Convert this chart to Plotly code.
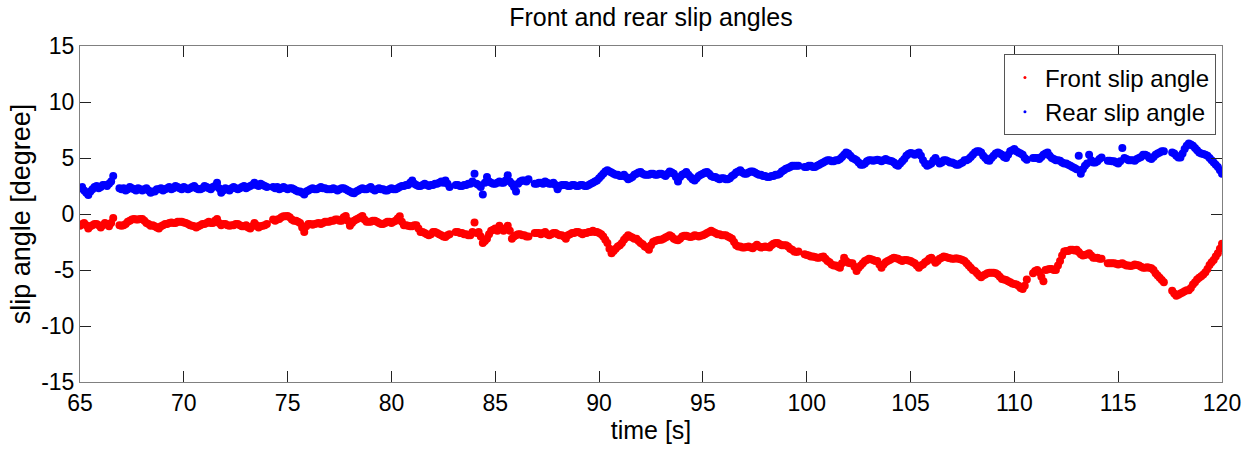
import numpy as np
import plotly.graph_objects as go

# Sample times: 0.1 s steps from 65 s to 120 s
t_start, t_step = 65.0, 0.1

# Rear slip angle [deg], one row per 2 s (None = dropped samples)
rear_slip = [
    2.3, 2.4, 2.1, 1.9, 1.7, 2.0, 2.2, 2.4, 2.5, 2.3, 2.4, 2.6, 2.6, 2.5, 2.7, 2.9, 3.4, None, None, 2.3,                  # 65
    2.2, 2.3, 2.1, 2.2, 2.4, 2.3, 2.2, 2.1, 2.3, 2.2, 2.1, 2.2, 2.3, 2.1, 1.9, 2.0, 2.0, 2.2, 2.2, 2.3,                    # 67
    2.1, 2.2, 2.3, 2.4, 2.2, 2.3, 2.5, 2.4, 2.3, 2.2, 2.4, 2.3, 2.2, 2.3, 2.4, 2.5, 2.3, 2.2, 2.2, 2.3,                    # 69
    2.5, 2.4, 2.3, 2.2, 2.4, 2.5, 2.8, 2.3, 1.9, 2.1, 2.3, 2.2, 2.1, 2.3, 2.4, 2.3, 2.2, 2.3, 2.4, 2.5,                    # 71
    2.3, 2.4, 2.5, 2.6, 2.8, 2.6, 2.5, 2.7, 2.6, 2.5, 2.4, None, None, 2.4, 2.3, 2.4, 2.2, 2.3, 2.4, 2.3,                  # 73
    2.2, 2.3, 2.3, 2.2, 2.1, 2.0, 2.0, 1.9, 1.75, 2.0, 2.1, 2.2, 2.3, 2.2, 2.2, 2.3, 2.4, 2.3, 2.3, 2.2,                   # 75
    2.2, 2.2, 2.3, 2.2, 2.1, 2.2, 2.3, 2.3, 2.2, 2.1, 2.0, 1.9, 1.85, 2.0, 2.1, 2.2, 2.3, 2.2, 2.2, 2.3,                   # 77
    2.4, 2.2, 2.1, 2.2, 2.3, 2.2, 2.2, 2.1, 2.1, 2.2, 2.3, 2.2, 2.2, 2.3, 2.4, 2.5, 2.5, 2.6, 2.6, 2.8,                    # 79
    3.0, 2.7, 2.6, 2.5, 2.5, 2.6, 2.7, 2.6, 2.5, 2.6, 2.6, 2.7, 2.7, 2.8, 2.9, 2.8, 3.0, 2.7, 2.4, None,                   # 81
    None, 2.6, 2.6, 2.5, 2.5, 2.6, 2.6, 2.7, 2.7, 2.9, 3.6, 2.7, 2.6, 2.4, 1.75, 2.8, 3.3, 2.9, 2.8, 2.7,                  # 83
    2.7, 2.8, 2.9, 2.8, 2.8, 3.0, 3.45, 2.9, 2.7, 2.4, 2.0, 2.7, 2.9, 3.0, 3.0, 2.9, 3.1, None, None, 2.7,                 # 85
    2.7, 2.8, 2.8, 2.7, 2.9, 2.8, 2.7, 2.7, 2.8, 2.6, 2.2, 2.5, 2.6, 2.6, 2.6, 2.5, 2.5, 2.6, 2.6, 2.5,                    # 87
    2.5, 2.6, 2.6, 2.5, 2.5, 2.6, 2.7, 2.8, 2.9, 3.0, 3.2, 3.4, 3.6, 3.8, 3.9, 3.8, 3.7, 3.6, 3.5, 3.5,                    # 89
    3.4, 3.4, 3.5, 3.3, 3.1, 3.2, 3.3, 3.5, 3.6, 3.7, 3.75, 3.6, 3.5, 3.5, 3.5, 3.6, 3.6, 3.5, 3.5, 3.6,                   # 91
    3.6, 3.5, 3.4, 3.6, 3.8, 3.7, 3.6, 3.3, 2.9, 3.3, 3.5, 3.6, 3.75, 3.5, 3.3, 3.1, 3.0, 3.2, 3.4, 3.5,                   # 93
    3.6, 3.7, 3.75, 3.6, 3.4, 3.3, 3.3, 3.2, 3.1, 3.2, 3.2, 3.1, 3.1, 3.2, 3.4, 3.5, 3.7, 3.8, 3.9, 3.7,                   # 95
    3.6, 3.6, 3.7, 3.8, 3.8, 3.7, 3.6, 3.5, 3.5, 3.4, 3.4, 3.3, 3.3, 3.4, 3.4, 3.5, 3.5, 3.6, 3.8, 3.9,                    # 97
    4.05, 4.1, 4.2, 4.3, 4.3, 4.3, 4.3, None, None, 4.2, 4.2, 4.3, 4.3, 4.2, 4.2, 4.3, 4.4, 4.5, 4.6, 4.7,                 # 99
    4.8, 4.8, 4.7, 4.7, 4.8, 4.8, 4.9, 5.1, 5.3, 5.5, 5.4, 5.2, 5.0, 4.9, 4.8, 4.6, 4.4, 4.4, 4.5, 4.7,                    # 101
    4.8, 4.8, 4.75, 4.8, 4.85, 4.8, 4.7, 4.8, 4.9, 4.8, 4.75, 4.7, 4.6, 4.4, 4.3, 4.5, 4.7, 4.9, 5.2, 5.35,                # 103
    5.45, 5.4, 5.3, 5.4, 5.5, 5.2, 4.8, 4.5, 4.3, 4.4, 4.5, 4.8, 5.0, 4.7, 4.5, 4.6, 4.8, 4.8, 4.7, 4.6,                   # 105
    4.6, 4.5, 4.4, 4.4, 4.5, 4.6, 4.8, 4.8, 4.9, 5.1, 5.3, 5.5, 5.6, 5.6, 5.5, 5.2, 5.0, 4.8, 4.75, 5.0,                   # 107
    5.2, 5.4, 5.5, 5.4, 5.3, 5.1, 5.0, 5.3, 5.6, 5.7, 5.8, 5.6, 5.5, 5.4, 5.3, 5.0, 4.85, None, None, 5.0,                 # 109
    5.0, 5.0, 4.9, 5.1, 5.3, 5.4, 5.5, 5.2, 5.0, 4.9, 4.8, 4.8, 4.75, 4.6, 4.5, 4.5, 4.4, 4.3, 4.2, 4.1,                   # 111
    4.0, 5.2, 3.6, 4.0, 4.3, 4.5, 5.3, 4.8, 4.6, 4.6, 4.7, 4.9, 5.05, None, None, 4.75, 4.75, 4.7, 4.7, 4.6,               # 113
    4.5, 4.7, 5.9, 5.0, 4.9, 4.8, 4.8, 4.8, 4.75, 4.9, 5.0, 5.1, 5.3, 5.3, 5.2, 5.0, 4.9, 5.1, 5.3, 5.4,                   # 115
    5.5, 5.6, 5.6, None, None, None, 5.5, 5.4, 5.2, 5.05, 5.05, 5.4, 5.8, 6.1, 6.3, 6.2, 6.1, 5.9, 5.7, 5.5,               # 117
    5.4, 5.35, 5.3, 5.2, 5.0, 4.8, 4.6, 4.4, 4.2, 3.9, 3.6,                                                                  # 119
]

# Front slip angle [deg], same sampling
front_slip = [
    -1.05, -0.9, -0.8, -1.0, -1.3, -1.1, -1.0, -0.9, -0.9, -1.0, -1.2, -1.0, -0.8, -0.9, -1.1, -0.8, -0.35, None, None, -1.0,      # 65
    -1.05, -1.0, -0.9, -0.7, -0.6, -0.5, -0.45, -0.5, -0.5, -0.45, -0.45, -0.6, -0.8, -0.9, -1.05, -1.0, -1.1, -1.2, -1.3, -1.1,  # 67
    -1.0, -0.9, -0.9, -0.8, -0.75, -0.8, -0.8, -0.7, -0.7, -0.7, -0.75, -0.8, -0.9, -1.0, -1.05, -1.1, -1.2, -1.1, -1.0, -0.9,     # 69
    -0.9, -0.8, -0.7, -0.8, -0.8, -0.6, -0.45, -0.8, -1.0, -0.9, -0.9, -1.0, -1.05, -1.0, -1.0, -0.9, -0.9, -1.0, -1.1, -1.1,      # 71
    -1.0, -1.2, -1.3, -1.1, -0.8, -1.0, -1.2, -1.1, -1.05, -1.0, -0.9, None, None, -0.5, -0.6, -0.5, -0.45, -0.3, -0.2, -0.2,      # 73
    -0.17, -0.3, -0.5, -0.6, -0.6, -0.7, -0.8, -1.2, -1.6, -1.1, -0.9, -0.9, -0.95, -0.9, -0.85, -0.8, -0.9, -0.8, -0.7, -0.7,     # 75
    -0.7, -0.6, -0.6, -0.5, -0.5, -0.6, -0.6, -0.3, -0.17, -0.6, -1.05, -0.8, -0.6, -0.5, -0.4, -0.3, -0.17, -0.5, -0.7, -0.7,     # 77
    -0.7, -0.6, -0.6, -0.7, -0.8, -0.9, -0.9, -0.8, -0.7, -0.7, -0.8, -0.7, -0.6, -0.4, -0.2, -0.7, -1.0, -1.0, -1.05, -1.1,       # 79
    -1.1, -1.0, -1.0, -1.3, -1.6, -1.6, -1.7, -1.8, -1.9, -1.8, -1.6, -1.6, -1.7, -1.8, -1.9, -2.0, -2.05, -1.9, -1.8, None,       # 81
    None, -1.6, -1.6, -1.7, -1.7, -1.8, -1.8, -1.9, -1.9, -1.6, -0.75, -1.7, -1.6, -2.0, -2.6, -2.4, -2.2, -1.8, -1.5, -1.4,       # 83
    -1.3, -1.5, -1.05, -1.3, -1.5, -1.3, -1.05, -1.5, -2.2, -2.0, -1.9, -1.8, -1.8, -1.9, -1.9, -2.0, -2.0, None, None, -1.7,      # 85
    -1.7, -1.7, -1.8, -1.7, -1.6, -1.8, -1.9, -1.8, -1.7, -1.7, -1.8, -1.9, -1.9, -2.0, -2.2, -1.9, -1.8, -1.7, -1.7, -1.6,        # 87
    -1.6, -1.7, -1.8, -1.7, -1.7, -1.6, -1.6, -1.5, -1.6, -1.6, -1.7, -1.8, -2.0, -2.3, -2.6, -3.1, -3.5, -3.3, -3.1, -2.9,        # 89
    -2.8, -2.6, -2.3, -2.1, -1.9, -2.0, -2.1, -2.2, -2.2, -2.4, -2.6, -2.7, -2.9, -3.0, -3.2, -2.8, -2.5, -2.4, -2.35, -2.3,       # 91
    -2.3, -2.2, -2.1, -2.0, -1.9, -2.0, -2.2, -2.3, -2.35, -2.2, -2.0, -1.95, -1.95, -2.0, -2.05, -2.0, -1.9, -1.95, -2.0, -1.95,  # 93
    -1.9, -1.8, -1.7, -1.6, -1.5, -1.6, -1.7, -1.8, -1.8, -1.9, -1.9, -1.9, -2.0, -2.1, -2.2, -2.5, -2.8, -2.9, -2.9, -3.0,        # 95
    -3.0, -2.95, -2.9, -3.0, -3.05, -2.9, -2.75, -2.9, -3.0, -2.95, -2.9, -2.95, -3.0, -2.8, -2.65, -2.6, -2.6, -2.7, -2.8, -2.8,  # 97
    -2.8, -2.9, -3.1, -3.2, -3.35, -3.4, -3.35, None, None, -3.6, -3.65, -3.7, -3.8, -3.8, -3.85, -3.9, -3.9, -3.85, -3.8, -4.0,   # 99
    -4.2, -4.3, -4.5, -4.6, -4.6, -4.7, -4.8, -4.4, -3.9, -4.2, -4.35, -4.4, -4.4, -4.7, -5.1, -4.8, -4.6, -4.4, -4.2, -4.1,       # 101
    -4.0, -4.05, -4.1, -4.2, -4.2, -4.5, -4.8, -4.5, -4.3, -4.2, -4.1, -4.0, -3.9, -3.95, -4.0, -4.1, -4.2, -4.1, -4.1, -4.15,     # 103
    -4.2, -4.3, -4.4, -4.6, -4.8, -4.6, -4.5, -4.3, -4.2, -4.0, -3.9, -4.1, -4.35, -4.2, -4.0, -3.9, -3.8, -3.85, -3.9, -3.95,     # 105
    -4.0, -4.0, -3.95, -4.0, -4.05, -4.1, -4.2, -4.4, -4.6, -4.8, -5.0, -5.1, -5.3, -5.5, -5.65, -5.5, -5.4, -5.3, -5.25, -5.25,   # 107
    -5.25, -5.3, -5.4, -5.6, -5.8, -5.85, -5.9, -6.0, -6.1, -6.2, -6.25, -6.3, -6.4, -6.6, -6.7, -6.4, -5.85, None, None, -5.3,    # 109
    -5.1, -5.0, -5.2, -5.6, -6.0, -5.0, -4.95, -4.9, -4.9, -5.0, -5.0, -4.6, -4.2, -3.7, -3.35, -3.3, -3.3, -3.2, -3.2, -3.25,     # 111
    -3.2, -3.4, -3.6, -3.7, -3.65, -3.6, -3.5, -3.7, -3.9, -3.9, -3.9, -4.0, -4.0, None, None, -4.4, -4.4, -4.4, -4.4, -4.45,      # 113
    -4.5, -4.45, -4.4, -4.5, -4.6, -4.6, -4.65, -4.6, -4.5, -4.55, -4.6, -4.7, -4.8, -4.8, -4.75, -4.8, -4.85, -5.0, -5.3, -5.5,   # 115
    -5.7, -5.9, -6.1, None, None, None, -6.85, -7.1, -7.3, -7.2, -7.1, -7.0, -6.9, -6.8, -6.8, -6.6, -6.3, -6.1, -5.85, -5.7,      # 117
    -5.55, -5.4, -5.2, -4.9, -4.55, -4.3, -4.1, -3.8, -3.5, -3.1, -2.65,                                                             # 119
]

assert len(rear_slip) == len(front_slip) == 551, (len(rear_slip), len(front_slip))

time_s = np.round(t_start + t_step * np.arange(len(front_slip)), 2)

x_ticks = [65, 70, 75, 80, 85, 90, 95, 100, 105, 110, 115, 120]
y_ticks = [-15, -10, -5, 0, 5, 10, 15]
y_tick_text = ["-15", "-10", "-5", "0", "5", "10", "15"]

FONT = "Liberation Sans, Arial, sans-serif"
RED, BLUE = "#ff0000", "#0000ff"

fig = go.Figure()
# data markers (dense dot bands)
fig.add_trace(go.Scatter(
    x=time_s, y=front_slip, mode="markers", showlegend=False,
    marker=dict(color=RED, size=8, symbol="circle", line=dict(width=0)),
))
fig.add_trace(go.Scatter(
    x=time_s, y=rear_slip, mode="markers", showlegend=False,
    marker=dict(color=BLUE, size=8, symbol="circle", line=dict(width=0)),
))
# legend entries with small point markers
fig.add_trace(go.Scatter(
    x=[None], y=[None], mode="markers", name="Front slip angle",
    marker=dict(color=RED, size=3),
))
fig.add_trace(go.Scatter(
    x=[None], y=[None], mode="markers", name="Rear slip angle",
    marker=dict(color=BLUE, size=3),
))

axis_common = dict(
    showgrid=False, zeroline=False, showline=True, mirror="allticks",
    linecolor="#808080", linewidth=1, ticks="inside", ticklen=11,
    tickcolor="#222222", tickwidth=1,
    tickfont=dict(family=FONT, size=23, color="#000000"),
)

fig.update_layout(
    width=1255, height=449,
    margin=dict(l=80, r=33, t=46, b=59),
    paper_bgcolor="#ffffff", plot_bgcolor="#ffffff",
    title=dict(text="Front and rear slip angles", x=0.5187, xanchor="center",
               y=0.962, yref="container", yanchor="middle",
               font=dict(family=FONT, size=25, color="#000000")),
    xaxis=dict(range=[65, 120], tickvals=x_ticks,
               title=dict(text="time [s]", standoff=4,
                          font=dict(family=FONT, size=25, color="#000000")),
               **axis_common),
    yaxis=dict(range=[-15, 15], tickvals=y_ticks, ticktext=y_tick_text,
               title=dict(text="slip angle [degree]", standoff=2,
                          font=dict(family=FONT, size=27, color="#000000")),
               **axis_common),
    legend=dict(x=0.9947, y=0.975, xanchor="right", yanchor="top",
                bgcolor="#ffffff", bordercolor="#555555", borderwidth=1,
                font=dict(family=FONT, size=24, color="#000000"),
                itemsizing="trace", tracegroupgap=0, itemwidth=30),
    showlegend=True,
)

fig.write_html("out.html")
